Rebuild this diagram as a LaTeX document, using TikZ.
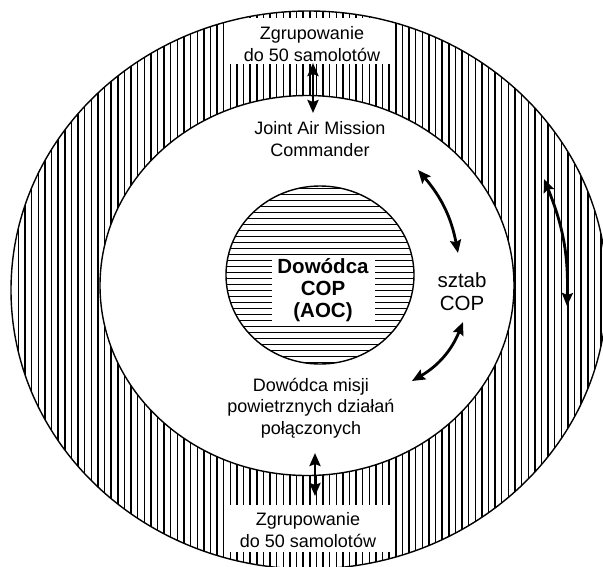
\documentclass[tikz,border=0pt]{standalone}
\usepackage{fontspec}
\setmainfont{Liberation Sans}
\usetikzlibrary{arrows.meta}
\begin{document}
\begin{tikzpicture}[x=1pt,y=-1pt,
  hatch/.style={line width=1.45pt,black},
  rim/.style={line width=1.4pt,black},
  tip/.tip={Stealth[length=13pt,width=11pt,inset=2pt]},
  link/.style={line width=2.8pt,tip-tip},
  lbl/.style={font=\fontsize{18}{21.5}\selectfont,align=center,inner sep=0pt},
  big/.style={font=\fontsize{20.5}{23}\selectfont,align=center,inner sep=0pt}]
\useasboundingbox (0,0) rectangle (603,566);

% outer ring with vertical hatching
\begin{scope}
  \clip (309,290) ellipse [x radius=298pt, y radius=279pt];
  \foreach \i in {0,...,90}
    \draw[hatch] (18.5+6.62*\i,0) -- (18.5+6.62*\i,600);
  \fill[white] (307,285.5) ellipse [x radius=207pt, y radius=190pt];
  \fill[white] (229,18) rectangle (392,64);
  \fill[white] (227,505) rectangle (390,552);
\end{scope}
\draw[rim] (309,290) ellipse [x radius=298pt, y radius=279pt];
\draw[rim] (307,285.5) ellipse [x radius=207pt, y radius=190pt];

% central disc with horizontal hatching
\begin{scope}
  \clip (320,275) ellipse [x radius=94pt, y radius=89pt];
  \foreach \i in {0,...,31}
    \draw[hatch] (200,188.7+6*\i) -- (440,188.7+6*\i);
  \fill[white] (272,256) rectangle (375,320.5);
\end{scope}
\draw[rim] (320,275) ellipse [x radius=94pt, y radius=89pt];

% labels
\node[lbl] (grpTop) at (312,44) {Zgrupowanie\\do 50 samolotów};
\node[lbl] (jamc) at (320,139) {Joint Air Mission\\Commander};
\node[big,font=\bfseries\fontsize{20.5}{22}\selectfont] (aoc) at (323,290) {Dowódca\\COP\\(AOC)};
\node[big] (staff) at (462,291.5) {sztab\\COP};
\node[lbl] (mission) at (311,408) {Dowódca misji\\powietrznych działań\\połączonych};
\node[lbl] (grpBot) at (308,530) {Zgrupowanie\\do 50 samolotów};

% connector ends
\coordinate (t1) at (313,63);
\coordinate (t2) at (313,113);
\coordinate (b1) at (315,453);
\coordinate (b2) at (315,496);
\coordinate (u1) at (418,170);
\coordinate (u2) at (458,253);
\coordinate (l1) at (463,322);
\coordinate (l2) at (412,381);
\coordinate (r1) at (544,179);
\coordinate (r2) at (567,306);

% connectors
\draw[link] (t1) -- (t2);
\draw[link] (b1) -- (b2);
\draw[link] (u1) to[bend left=15] (u2);
\draw[link] (l1) to[bend left=19] (l2);
\draw[link] (r1) to[bend left=12] (r2);
\end{tikzpicture}
\end{document}
